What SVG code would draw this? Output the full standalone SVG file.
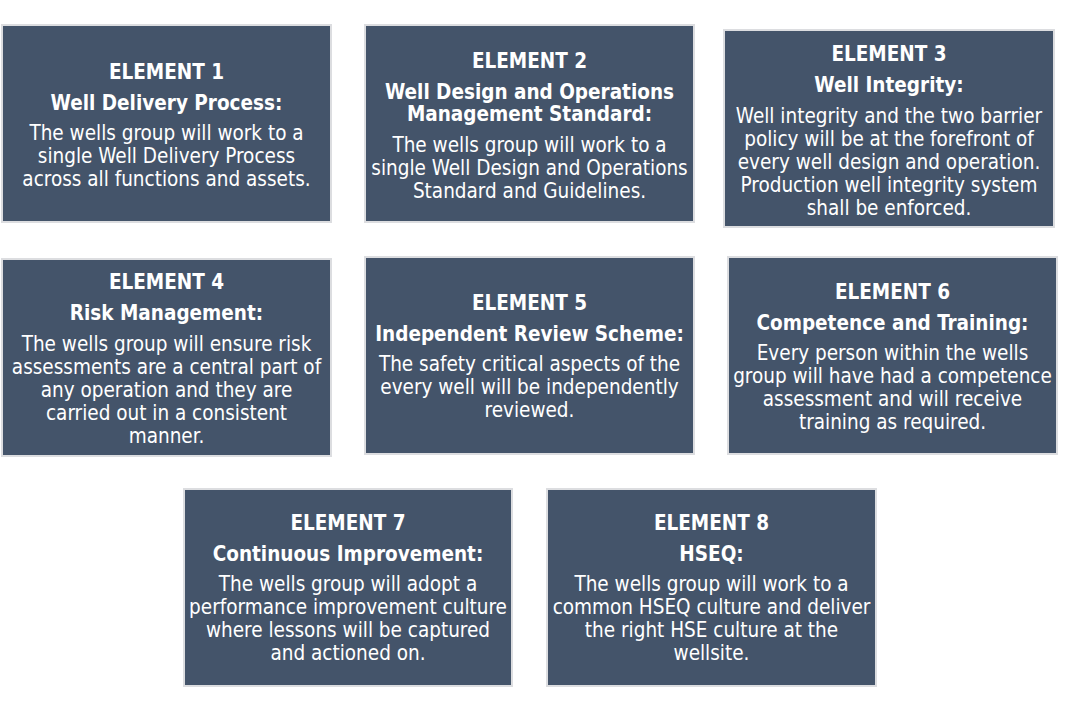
<svg xmlns="http://www.w3.org/2000/svg" width="1071" height="711" viewBox="0 0 1071 711">
<style>
.box{fill:#44546a;stroke:#dcdde0;stroke-width:2}
text{font-family:"DejaVu Sans Condensed","DejaVu Sans",sans-serif;font-size:20.5px;fill:#ffffff;text-anchor:middle}
.b{font-weight:bold}
</style>
<rect width="1071" height="711" fill="#ffffff"/>
<g id="connectors"></g>
<g id="node1">
<rect class="box" x="2" y="25" width="329" height="197"/>
<text class="b" x="166.5" y="78.5">ELEMENT 1</text>
<text class="b" x="166.5" y="109.5">Well Delivery Process:</text>
<text x="166.5" y="139.5">The wells group will work to a</text>
<text x="166.5" y="162.5">single Well Delivery Process</text>
<text x="166.5" y="185.5">across all functions and assets.</text>
</g>
<g id="node2">
<rect class="box" x="365" y="25" width="329" height="197"/>
<text class="b" x="529.5" y="67.5">ELEMENT 2</text>
<text class="b" x="529.5" y="98.5">Well Design and Operations</text>
<text class="b" x="529.5" y="121">Management Standard:</text>
<text x="529.5" y="151.5">The wells group will work to a</text>
<text x="529.5" y="174.5">single Well Design and Operations</text>
<text x="529.5" y="197.5">Standard and Guidelines.</text>
</g>
<g id="node3">
<rect class="box" x="724" y="30" width="330" height="197"/>
<text class="b" x="889" y="60.5">ELEMENT 3</text>
<text class="b" x="889" y="91.5">Well Integrity:</text>
<text x="889" y="122.5">Well integrity and the two barrier</text>
<text x="889" y="145.5">policy will be at the forefront of</text>
<text x="889" y="168.5">every well design and operation.</text>
<text x="889" y="191.5">Production well integrity system</text>
<text x="889" y="214.5">shall be enforced.</text>
</g>
<g id="node4">
<rect class="box" x="2" y="259" width="329" height="197"/>
<text class="b" x="166.5" y="289">ELEMENT 4</text>
<text class="b" x="166.5" y="320">Risk Management:</text>
<text x="166.5" y="351">The wells group will ensure risk</text>
<text x="166.5" y="374">assessments are a central part of</text>
<text x="166.5" y="397">any operation and they are</text>
<text x="166.5" y="420">carried out in a consistent</text>
<text x="166.5" y="443">manner.</text>
</g>
<g id="node5">
<rect class="box" x="365" y="257" width="329" height="197"/>
<text class="b" x="529.5" y="309.5">ELEMENT 5</text>
<text class="b" x="529.5" y="340.5">Independent Review Scheme:</text>
<text x="529.5" y="370.5">The safety critical aspects of the</text>
<text x="529.5" y="393.5">every well will be independently</text>
<text x="529.5" y="416.5">reviewed.</text>
</g>
<g id="node6">
<rect class="box" x="728" y="257" width="329" height="197"/>
<text class="b" x="892.5" y="298.5">ELEMENT 6</text>
<text class="b" x="892.5" y="329.5">Competence and Training:</text>
<text x="892.5" y="359.5">Every person within the wells</text>
<text x="892.5" y="382.5">group will have had a competence</text>
<text x="892.5" y="405.5">assessment and will receive</text>
<text x="892.5" y="428.5">training as required.</text>
</g>
<g id="node7">
<rect class="box" x="184" y="489" width="328" height="197"/>
<text class="b" x="348" y="529.5">ELEMENT 7</text>
<text class="b" x="348" y="560.5">Continuous Improvement:</text>
<text x="348" y="590.5">The wells group will adopt a</text>
<text x="348" y="613.5">performance improvement culture</text>
<text x="348" y="636.5">where lessons will be captured</text>
<text x="348" y="659.5">and actioned on.</text>
</g>
<g id="node8">
<rect class="box" x="547" y="489" width="329" height="197"/>
<text class="b" x="711.5" y="529.5">ELEMENT 8</text>
<text class="b" x="711.5" y="560.5">HSEQ:</text>
<text x="711.5" y="590.5">The wells group will work to a</text>
<text x="711.5" y="613.5">common HSEQ culture and deliver</text>
<text x="711.5" y="636.5">the right HSE culture at the</text>
<text x="711.5" y="659.5">wellsite.</text>
</g>
</svg>
